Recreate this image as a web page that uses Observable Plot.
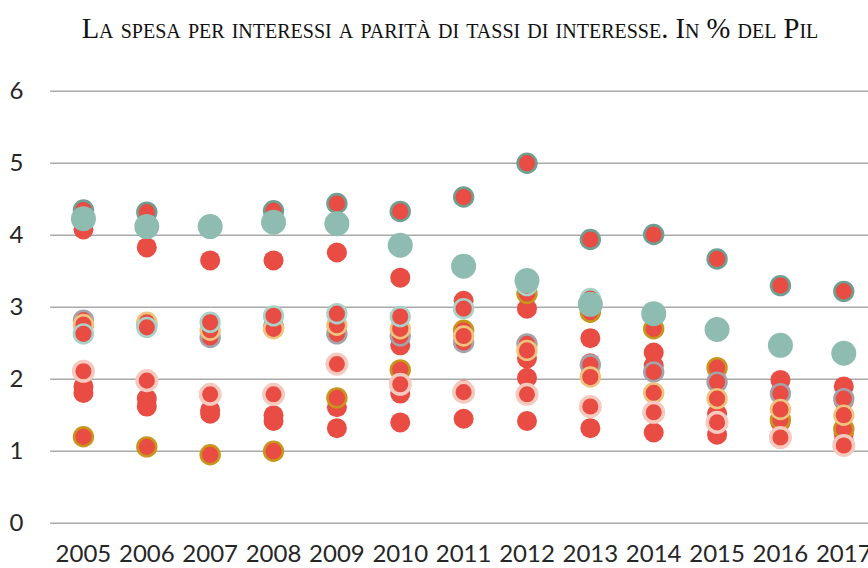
<!DOCTYPE html>
<html>
<head>
<meta charset="utf-8">
<script src="https://cdn.jsdelivr.net/npm/d3@7"></script>
<script src="https://cdn.jsdelivr.net/npm/@observablehq/plot@0.6"></script>
<style>
  html, body { margin: 0; padding: 0; background: #fff; }
  #title {
    box-sizing: border-box; width: 868px; height: 60px; padding: 14px 0 0 32px;
    text-align: center; font-family: "Liberation Serif", "Times New Roman", serif;
    font-variant: small-caps; font-size: 28.6px; color: #111; line-height: 30px;
    white-space: nowrap;
  }
</style>
</head>
<body>
<div id="title">La spesa per interessi a parità di tassi di interesse. In % del Pil</div>
<div id="chart"></div>
<script>
const years = [2005, 2006, 2007, 2008, 2009, 2010, 2011, 2012, 2013, 2014, 2015, 2016, 2017];
const yTicks = [0, 1, 2, 3, 4, 5, 6];

// plain red series
const redHigh  = [4.08, 3.83, 3.65, 3.65, 3.76, 3.41, 3.09, 2.98, 2.57, 2.37, 2.14, 1.99, 1.90];
const redMid   = [2.72, 2.74, 2.64, 2.74, 2.68, 2.47, 2.55, 2.29, 2.22, 2.19, 1.98, 1.82, 1.70];
const redLow   = [1.90, 1.73, 1.57, 1.50, 1.61, 1.80, 1.85, 2.02, 2.05, 1.80, 1.52, 1.40, 1.25];
const redBase  = [1.81, 1.62, 1.52, 1.42, 1.32, 1.40, 1.45, 1.42, 1.32, 1.26, 1.23, 1.17, 1.15];
// ringed series
const goldRing  = [1.20, 1.06, 0.95, 1.00, 1.74, 2.13, 2.68, 3.19, 2.93, 2.70, 2.16, 1.44, 1.31];
const grayRing  = [2.82, 2.76, 2.58, 2.72, 2.63, 2.60, 2.51, 2.49, 2.20, 2.10, 1.96, 1.80, 1.73];
const peachRing = [2.76, 2.79, 2.68, 2.70, 2.75, 2.70, 2.60, 2.40, 2.03, 1.81, 1.73, 1.58, 1.50];
const pinkHalo  = [2.11, 1.98, 1.79, 1.79, 2.21, 1.93, 1.82, 1.79, 1.62, 1.54, 1.40, 1.19, 1.08];
const tealRing  = [2.63, 2.72, 2.79, 2.88, 2.91, 2.87, 2.98, 3.30, 3.12, 2.92, 2.70, 2.47, 2.36];
const darkRing  = [4.35, 4.32, 4.12, 4.34, 4.44, 4.33, 4.53, 5.00, 3.94, 4.01, 3.67, 3.30, 3.22];
// large teal series
const tealBig   = [4.23, 4.12, 4.12, 4.18, 4.16, 3.86, 3.57, 3.37, 3.04, 2.91, 2.69, 2.47, 2.36];

const rows = vals => years.map((year, i) => ({year, v: vals[i]}));
const RED = "#e84c43";

const chart = Plot.plot({
  width: 868,
  height: 508,
  marginLeft: 50,
  marginRight: 0,
  marginTop: 30.7,
  marginBottom: 45.3,
  style: {fontFamily: "Lato, 'Open Sans', sans-serif", fontSize: "24px", color: "#262626", background: "#fff"},
  x: {domain: [2004.48, 2017.39], axis: null},
  y: {domain: [0, 6], axis: null},
  marks: [
    Plot.ruleY(yTicks, {stroke: "#a9a9a9", strokeWidth: 1.6}),
    Plot.axisY({ticks: yTicks, tickSize: 0, tickPadding: 27, fontSize: 24, label: null, tickFormat: d => String(d)}),
    Plot.axisX({ticks: years, tickSize: 0, tickPadding: 22, fontSize: 24, label: null, tickFormat: d => String(d)}),
    Plot.dot(rows(redHigh), {x: "year", y: "v", r: 10, fill: RED}),
    Plot.dot(rows(redMid), {x: "year", y: "v", r: 10, fill: RED}),
    Plot.dot(rows(redLow), {x: "year", y: "v", r: 10, fill: RED}),
    Plot.dot(rows(redBase), {x: "year", y: "v", r: 10, fill: RED}),
    Plot.dot(rows(goldRing), {x: "year", y: "v", r: 9.4, fill: RED, stroke: "#c9961d", strokeWidth: 2.6}),
    Plot.dot(rows(grayRing), {x: "year", y: "v", r: 9.4, fill: RED, stroke: "#a3a3ab", strokeWidth: 2.6}),
    Plot.dot(rows(peachRing), {x: "year", y: "v", r: 9.4, fill: RED, stroke: "#efc47e", strokeWidth: 2.6}),
    Plot.dot(rows(pinkHalo), {x: "year", y: "v", r: 9.8, fill: RED, stroke: "#f7cabf", strokeWidth: 3.5}),
    Plot.dot(rows(tealRing), {x: "year", y: "v", r: 9.4, fill: RED, stroke: "#a9d2c8", strokeWidth: 2.6}),
    Plot.dot(rows(darkRing), {x: "year", y: "v", r: 9.4, fill: RED, stroke: "#6f9f93", strokeWidth: 2.6}),
    Plot.dot(rows(tealBig), {x: "year", y: "v", r: 12.5, fill: "#8fbcb0"})
  ]
});
document.getElementById("chart").appendChild(chart);
</script>
</body>
</html>
